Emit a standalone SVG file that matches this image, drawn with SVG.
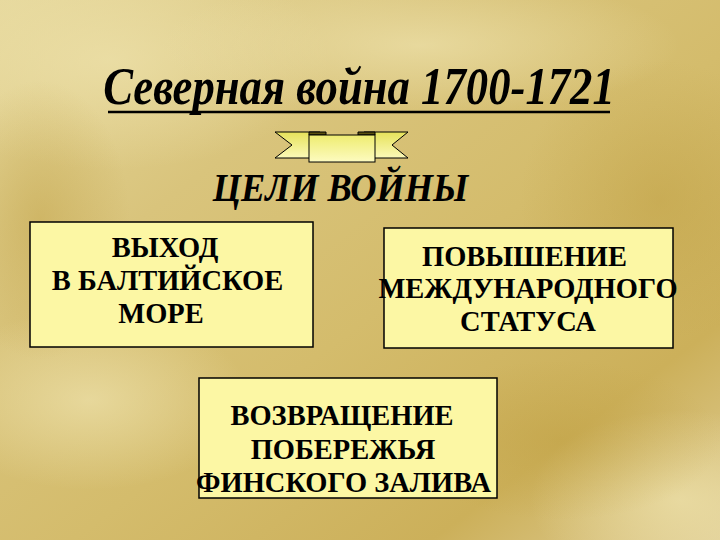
<svg xmlns="http://www.w3.org/2000/svg" width="720" height="540" viewBox="0 0 720 540">
<defs>
<linearGradient id="bg" x1="0" y1="0" x2="1" y2="1">
<stop offset="0" stop-color="#e6d89c"/>
<stop offset="0.3" stop-color="#d9c47c"/>
<stop offset="0.55" stop-color="#d4bc6c"/>
<stop offset="0.8" stop-color="#ccb05a"/>
<stop offset="1" stop-color="#e0ce96"/>
</linearGradient>
<radialGradient id="lite" cx="0.5" cy="0.5" r="0.5">
<stop offset="0" stop-color="#eee2ac" stop-opacity="0.7"/>
<stop offset="1" stop-color="#eee2ac" stop-opacity="0"/>
</radialGradient>
<radialGradient id="dark" cx="0.5" cy="0.5" r="0.5">
<stop offset="0" stop-color="#bf9f42" stop-opacity="0.45"/>
<stop offset="1" stop-color="#bf9f42" stop-opacity="0"/>
</radialGradient>
<linearGradient id="rib" x1="0" y1="0" x2="0" y2="1">
<stop offset="0" stop-color="#e6e25a"/>
<stop offset="1" stop-color="#fbf9b8"/>
</linearGradient>
<linearGradient id="ribc" x1="0" y1="0" x2="0" y2="1">
<stop offset="0" stop-color="#eeec70"/>
<stop offset="1" stop-color="#fdfbc0"/>
</linearGradient>
</defs>
<rect x="0" y="0" width="720" height="540" fill="url(#bg)"/>
<ellipse cx="110" cy="60" rx="220" ry="110" fill="url(#lite)"/>
<ellipse cx="420" cy="45" rx="260" ry="70" fill="url(#lite)"/>
<ellipse cx="90" cy="400" rx="160" ry="90" fill="url(#lite)"/>
<ellipse cx="680" cy="500" rx="150" ry="90" fill="url(#lite)"/>
<ellipse cx="660" cy="200" rx="140" ry="140" fill="url(#dark)"/>
<ellipse cx="560" cy="440" rx="160" ry="80" fill="url(#dark)"/>
<ellipse cx="40" cy="220" rx="90" ry="140" fill="url(#dark)"/>

<g id="title">
<text font-family="Liberation Serif, Times New Roman, DejaVu Serif, serif" font-weight="bold" font-style="italic" font-size="52" text-anchor="middle" transform="translate(359,104) scale(0.86,1)">Северная война 1700-1721</text>
<line x1="108" y1="112" x2="610" y2="112" stroke="#000" stroke-width="2.5"/>
</g>

<g id="ribbon" stroke="#000" stroke-width="1">
<polygon fill="url(#rib)" points="275,132 320,132 320,158 275,158 292,145"/>
<polygon fill="url(#rib)" points="408,132 364,132 364,158 408,158 392,145"/>
<polygon fill="#5a5010" points="309,132 326,132 326,135 309,135"/>
<polygon fill="#5a5010" points="358,132 375,132 375,135 358,135"/>
<rect fill="url(#ribc)" x="309" y="135" width="66" height="27"/>
</g>

<g id="subtitle">
<text font-family="Liberation Serif, Times New Roman, DejaVu Serif, serif" font-weight="bold" font-style="italic" font-size="40" text-anchor="middle" transform="translate(340.5,201) scale(0.91,1)">ЦЕЛИ ВОЙНЫ</text>
</g>

<g id="goal1">
<rect x="30" y="222" width="283" height="125" fill="#fcf7a4" stroke="#000" stroke-width="1.5"/>
<text font-family="Liberation Serif, Times New Roman, DejaVu Serif, serif" font-weight="bold" font-size="30" text-anchor="middle" transform="translate(165,257) scale(0.95,1)">ВЫХОД</text>
<text font-family="Liberation Serif, Times New Roman, DejaVu Serif, serif" font-weight="bold" font-size="30" text-anchor="middle" transform="translate(167.5,290) scale(0.95,1)">В БАЛТИЙСКОЕ</text>
<text font-family="Liberation Serif, Times New Roman, DejaVu Serif, serif" font-weight="bold" font-size="30" text-anchor="middle" transform="translate(161,323) scale(0.95,1)">МОРЕ</text>
</g>

<g id="goal2">
<rect x="384" y="228" width="289" height="120" fill="#fcf7a4" stroke="#000" stroke-width="1.5"/>
<text font-family="Liberation Serif, Times New Roman, DejaVu Serif, serif" font-weight="bold" font-size="30" text-anchor="middle" transform="translate(524.5,266) scale(0.95,1)">ПОВЫШЕНИЕ</text>
<text font-family="Liberation Serif, Times New Roman, DejaVu Serif, serif" font-weight="bold" font-size="30" text-anchor="middle" transform="translate(528,298) scale(0.95,1)">МЕЖДУНАРОДНОГО</text>
<text font-family="Liberation Serif, Times New Roman, DejaVu Serif, serif" font-weight="bold" font-size="30" text-anchor="middle" transform="translate(528,331) scale(0.95,1)">СТАТУСА</text>
</g>

<g id="goal3">
<rect x="199" y="378" width="298" height="120" fill="#fcf7a4" stroke="#000" stroke-width="1.5"/>
<text font-family="Liberation Serif, Times New Roman, DejaVu Serif, serif" font-weight="bold" font-size="30" text-anchor="middle" transform="translate(342,425) scale(0.95,1)">ВОЗВРАЩЕНИЕ</text>
<text font-family="Liberation Serif, Times New Roman, DejaVu Serif, serif" font-weight="bold" font-size="30" text-anchor="middle" transform="translate(343,459) scale(0.95,1)">ПОБЕРЕЖЬЯ</text>
<text font-family="Liberation Serif, Times New Roman, DejaVu Serif, serif" font-weight="bold" font-size="30" text-anchor="middle" transform="translate(343.5,492) scale(0.95,1)">ФИНСКОГО ЗАЛИВА</text>
</g>
</svg>
